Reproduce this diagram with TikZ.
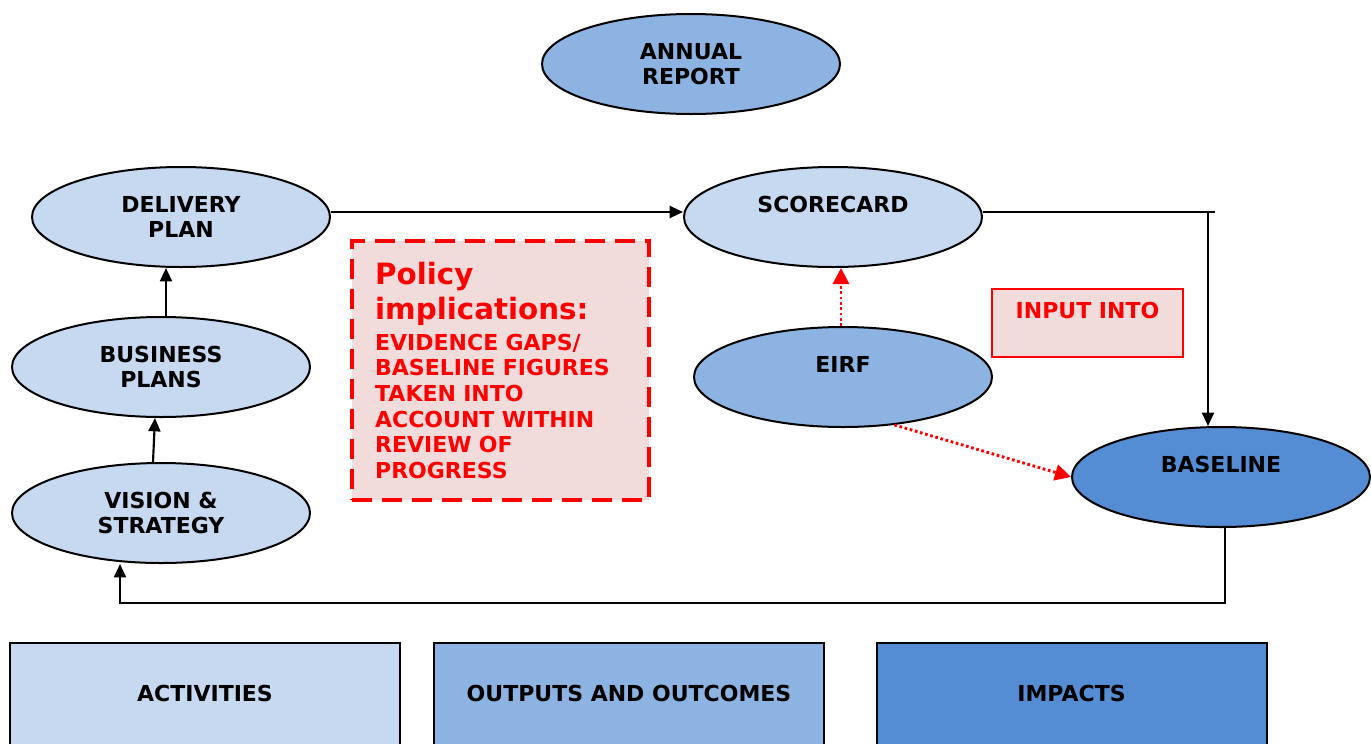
\documentclass[tikz,border=0pt]{standalone}
\usepackage{fontspec}
\setmainfont{DejaVu Sans}
\usetikzlibrary{arrows.meta,shapes.geometric}
\definecolor{lb}{RGB}{198,217,240}
\definecolor{mb}{RGB}{141,179,226}
\definecolor{db}{RGB}{84,141,212}
\definecolor{pk}{RGB}{242,220,219}
\begin{document}
\begin{tikzpicture}[x=0.75pt,y=-0.75pt,
  lbl/.style={font=\bfseries\fontsize{16.5}{19.2}\selectfont},
  ell/.style={ellipse, draw, line width=1.5pt, minimum width=223.5pt, minimum height=75pt, inner sep=0pt, align=center, lbl},
  bbx/.style={draw, line width=1.5pt, minimum width=292.5pt, minimum height=82pt, inner sep=0pt, lbl},
  arr/.style={line width=1.6pt, -{Triangle[length=10pt,width=9pt]}},
  rdot/.style={red, line width=2.2pt, dash pattern=on 2pt off 2pt, -{Triangle[length=12pt,width=12pt]}}
]
\useasboundingbox (0,0) rectangle (1371,743);

% ellipses
\node[ell, fill=mb] (ar) at (691,64) {ANNUAL\\REPORT};
\node[ell, fill=lb] (dp) at (181,217) {DELIVERY\\PLAN};
\node[ell, fill=lb] (sc) at (833,217) {SCORECARD\\~};
\node[ell, fill=lb] (bp) at (161,367) {BUSINESS\\PLANS};
\node[ell, fill=lb] (vs) at (161,513) {VISION \&\\STRATEGY};
\node[ell, fill=mb] (ei) at (843,377) {EIRF\\~};
\node[ell, fill=db] (bl) at (1221,477) {BASELINE\\~};

% policy box
\node[draw=red, line width=3pt, dash pattern=on 15pt off 7.5pt, fill=pk, text=red,
  text width=188pt, align=left, inner xsep=17.25pt, inner ysep=0pt,
  minimum height=194.25pt, lbl] (pol) at (500.5,370.5)
  {{\fontsize{22}{26}\selectfont Policy\\implications:\par}\vspace{4pt}EVIDENCE GAPS/\\BASELINE FIGURES\\TAKEN INTO\\ACCOUNT WITHIN\\REVIEW OF\\PROGRESS};

% input into box
\node[draw=red, line width=1.6pt, fill=pk, text=red, align=center,
  minimum width=143.25pt, minimum height=51pt, inner sep=0pt, lbl] (inp) at (1087.5,323) {INPUT INTO\\~};

% bottom boxes
\node[bbx, fill=lb, anchor=north] (act) at (205,642) {};
\node[bbx, fill=mb, anchor=north] (out) at (629,642) {};
\node[bbx, fill=db, anchor=north] (imp) at (1071.5,642) {};
\node[lbl] at (205,693) {ACTIVITIES};
\node[lbl] at (629,693) {OUTPUTS AND OUTCOMES};
\node[lbl] at (1071.5,693) {IMPACTS};

% connectors
\coordinate (c1) at (1215,212);
\coordinate (c2) at (1208,212);
\coordinate (c3) at (120,603);
\draw[arr] ([yshift=3.75pt]dp.east) -- ([yshift=3.75pt]sc.west);
\draw[line width=1.6pt] ([yshift=3.75pt]sc.east) -- (c1);
\draw[arr] (c2) -- (c2 |- bl.north);
\draw[arr] ([xshift=3.75pt]bp.north) -- ([xshift=3.75pt]bp.north |- dp.south);
\draw[arr] ([xshift=-6pt]vs.north) -- ([xshift=-4.5pt]bp.south);
\draw[arr, line width=1.3pt] ([xshift=3pt]bl.south) |- (c3) -- (c3 |- vs.south);
\draw[rdot] ([xshift=-1.5pt]ei.north) -- ([xshift=-1.5pt]ei.north |- sc.south);
\draw[rdot] (ei.-43) -- (bl.west);
\end{tikzpicture}
\end{document}
